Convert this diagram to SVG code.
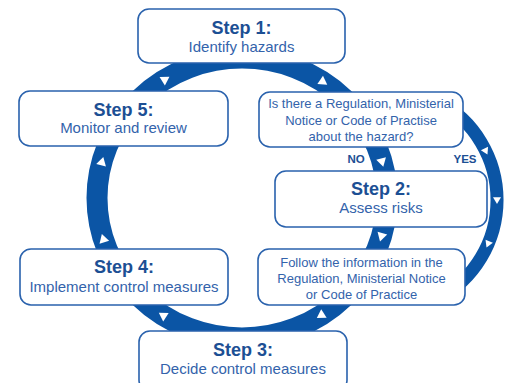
<svg xmlns="http://www.w3.org/2000/svg" width="510" height="383" viewBox="0 0 510 383">
<style>
.box{fill:#fff;stroke:#2a62ad;stroke-width:1.6}
.band{fill:none;stroke:#0b55a5}
.ti{font-family:"Liberation Sans",Arial,sans-serif;font-weight:bold;font-size:18px;fill:#1c4f94;text-anchor:middle}
.su{font-family:"Liberation Sans",Arial,sans-serif;font-size:15px;fill:#3363ab;text-anchor:middle}
.q{font-family:"Liberation Sans",Arial,sans-serif;font-size:13px;fill:#3363ab;text-anchor:middle}
.lb{font-family:"Liberation Sans",Arial,sans-serif;font-weight:bold;font-size:11.5px;fill:#1c4f94;text-anchor:middle}
</style>
<defs>
<path id="tri" d="M5,0 L-3.5,-5 L-3.5,5 Z" fill="#fff"/>
</defs>
<rect width="510" height="383" fill="#fff"/>
<g id="connectors">
<ellipse class="band" cx="242" cy="198" rx="145" ry="140" stroke-width="21"/>
<path class="band" d="M437.6,101.1 A112,112 0 0 1 437.6,298.9" stroke-width="13"/>
<use href="#tri" transform="translate(165.2,79.3) rotate(-32)"/>
<use href="#tri" transform="translate(323.1,81.9) rotate(34)"/>
<use href="#tri" transform="translate(382,161.8) rotate(75)"/>
<use href="#tri" transform="translate(381.4,236.6) rotate(106)"/>
<use href="#tri" transform="translate(321,315.4) rotate(147)"/>
<use href="#tri" transform="translate(163,315.4) rotate(213)"/>
<use href="#tri" transform="translate(103.3,238.9) rotate(253)"/>
<use href="#tri" transform="translate(102,161.8) rotate(285)"/>
<use href="#tri" transform="translate(485.7,150.9) rotate(64) scale(0.8)"/>
<use href="#tri" transform="translate(497,200) rotate(90) scale(0.8)"/>
<use href="#tri" transform="translate(488.1,243.8) rotate(113) scale(0.8)"/>
<text class="lb" x="356" y="163">NO</text>
<text class="lb" x="465" y="163">YES</text>
</g>
<g id="step1">
<rect class="box" x="138" y="9" width="207" height="54" rx="11"/>
<text class="ti" x="241.5" y="34">Step 1:</text>
<text class="su" x="241.5" y="52">Identify hazards</text>
</g>
<g id="question">
<rect class="box" x="259" y="92" width="204" height="55" rx="11"/>
<text class="q" x="361" y="108">Is there a Regulation, Ministerial</text>
<text class="q" x="361" y="125">Notice or Code of Practise</text>
<text class="q" x="361" y="141">about the hazard?</text>
</g>
<g id="step2">
<rect class="box" x="275" y="171" width="212" height="56" rx="11"/>
<text class="ti" x="381" y="195">Step 2:</text>
<text class="su" x="381" y="213">Assess risks</text>
</g>
<g id="follow">
<rect class="box" x="258" y="249" width="207" height="56" rx="11"/>
<text class="q" x="361.5" y="267">Follow the information in the</text>
<text class="q" x="361.5" y="283">Regulation, Ministerial Notice</text>
<text class="q" x="361.5" y="299">or Code of Practice</text>
</g>
<g id="step3">
<rect class="box" x="139" y="331" width="208" height="60" rx="11"/>
<text class="ti" x="243" y="356">Step 3:</text>
<text class="su" x="243" y="374">Decide control measures</text>
</g>
<g id="step4">
<rect class="box" x="20" y="249" width="208" height="56" rx="11"/>
<text class="ti" x="124" y="273">Step 4:</text>
<text class="su" x="124" y="292">Implement control measures</text>
</g>
<g id="step5">
<rect class="box" x="19" y="91" width="209" height="55" rx="11"/>
<text class="ti" x="123.5" y="116">Step 5:</text>
<text class="su" x="123.5" y="133">Monitor and review</text>
</g>
</svg>
